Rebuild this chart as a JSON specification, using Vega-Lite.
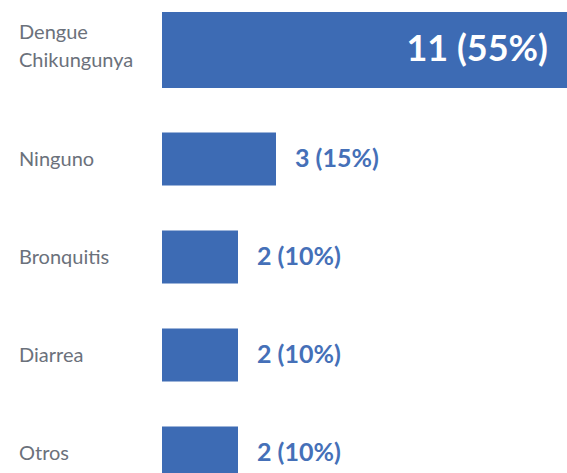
{
  "$schema": "https://vega.github.io/schema/vega-lite/v6.json",
  "width": 405,
  "height": 461,
  "autosize": "none",
  "padding": {"left": 162, "top": 12, "right": 0, "bottom": 0},
  "background": "white",
  "config": {"view": {"stroke": null}},
  "data": {
    "values": [
      {"category": "Dengue Chikungunya", "count": 11, "pct": 55},
      {"category": "Ninguno", "count": 3, "pct": 15},
      {"category": "Bronquitis", "count": 2, "pct": 10},
      {"category": "Diarrea", "count": 2, "pct": 10},
      {"category": "Otros", "count": 2, "pct": 10}
    ]
  },
  "transform": [
    {"calculate": "datum.count + ' (' + datum.pct + '%)'", "as": "label"},
    {"calculate": "split(datum.category, ' ')", "as": "catLines"}
  ],
  "encoding": {
    "y": {
      "field": "category",
      "type": "nominal",
      "sort": null,
      "scale": {"type": "band", "range": [0, 490], "paddingInner": 0, "paddingOuter": 0},
      "axis": null
    },
    "x": {
      "field": "count",
      "type": "quantitative",
      "scale": {"domain": [0, 10.658], "nice": false, "zero": true},
      "axis": null
    }
  },
  "layer": [
    {
      "mark": {"type": "bar", "color": "#3D6BB4", "yOffset": {"expr": "datum.count > 5 ? -11 : 0"}},
      "encoding": {
        "size": {"condition": {"test": "datum.count > 5", "value": 76}, "value": 53}
      }
    },
    {
      "mark": {"type": "text", "align": "left", "baseline": "middle", "dx": -143, "lineHeight": 28, "font": "Lato", "fontSize": 20, "color": "#6B717B", "yOffset": {"expr": "datum.count > 5 ? -28 : 1"}},
      "encoding": {
        "x": {"datum": 0},
        "text": {"field": "catLines"}
      }
    },
    {
      "transform": [{"filter": "datum.count > 5"}],
      "mark": {"type": "text", "align": "right", "baseline": "middle", "dx": -32, "dy": -11, "font": "Lato", "fontWeight": "bold", "fontSize": 36, "color": "white"},
      "encoding": {"text": {"field": "label"}}
    },
    {
      "transform": [{"filter": "datum.count <= 5"}],
      "mark": {"type": "text", "align": "left", "baseline": "middle", "dx": 19, "font": "Lato", "fontWeight": "bold", "fontSize": 25, "color": "#4570B8"},
      "encoding": {"text": {"field": "label"}}
    }
  ]
}
